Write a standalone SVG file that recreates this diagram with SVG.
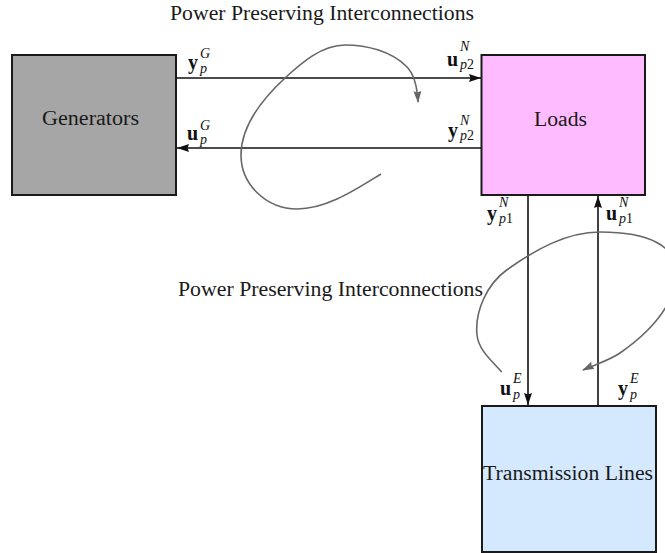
<svg xmlns="http://www.w3.org/2000/svg" width="665" height="553" viewBox="0 0 665 553">
<style>
  .box { stroke: #1a1a1a; stroke-width: 2; }
  .lbl { font-family: "Liberation Serif", "Times New Roman", serif; font-size: 20px; fill: #1a1a1a; }
  .main { font-family: "Liberation Serif", "Times New Roman", serif; font-size: 20px; font-weight: bold; fill: #111; }
  .scr { font-family: "Liberation Serif", "Times New Roman", serif; font-size: 14px; font-style: italic; fill: #111; }
  .up { font-style: normal; }
  .wire { stroke: #111; stroke-width: 1.6; fill: none; marker-end: url(#ah); }
  .loop { stroke: #666; stroke-width: 1.6; fill: none; marker-end: url(#ahg); }
</style>
<defs>
  <marker id="ah" markerUnits="userSpaceOnUse" viewBox="0 0 12 8" refX="12" refY="4" markerWidth="12" markerHeight="8" orient="auto">
    <path d="M0,0 L12,4 L0,8 L1.5,4 z" fill="#111"/>
  </marker>
  <marker id="ahg" markerUnits="userSpaceOnUse" viewBox="0 0 12 8" refX="11" refY="4" markerWidth="12" markerHeight="8" orient="auto">
    <path d="M0,0 L12,4 L0,8 L1.5,4 z" fill="#666"/>
  </marker>
</defs>

<text class="lbl" x="170" y="20" textLength="304" lengthAdjust="spacingAndGlyphs">Power Preserving Interconnections</text>
<text class="lbl" x="178" y="296" textLength="305" lengthAdjust="spacingAndGlyphs">Power Preserving Interconnections</text>

<g id="generators">
  <rect class="box" x="12" y="55" width="164" height="140" fill="#a6a6a6"/>
  <text class="lbl" x="42" y="125" textLength="97" lengthAdjust="spacingAndGlyphs">Generators</text>
</g>
<g id="loads">
  <rect class="box" x="481.5" y="55" width="163.5" height="140" fill="#ffbbff"/>
  <text class="lbl" x="534" y="126" textLength="53" lengthAdjust="spacingAndGlyphs">Loads</text>
</g>
<g id="transmission-lines">
  <rect class="box" x="482" y="406" width="174" height="146" fill="#d4e8fe"/>
  <text class="lbl" x="483" y="480" textLength="170" lengthAdjust="spacingAndGlyphs">Transmission Lines</text>
</g>

<g id="connectors">
  <line class="wire" x1="176" y1="78" x2="481" y2="78"/>
  <line class="wire" x1="481" y1="148" x2="177" y2="148"/>
  <line class="wire" x1="528" y1="195" x2="528" y2="405"/>
  <line class="wire" x1="598" y1="406" x2="598" y2="196"/>
  <path class="loop" d="M381,174 C355.5,189.6 327,209 297,209 C267,209 241,185 241,155 C241,125 263,98.4 285,78 C302,62.4 322,45 345,45 C367,45 391.6,51.2 407,67 C415.4,75.6 417.4,90 418,102"/>
  <path class="loop" d="M501.7,372 C491.8,360.8 478.5,350 477,335 C474.6,311 487.3,283.9 506.7,270 C534.2,250.3 566,232 600,232 C649,232 676,246 676,272 C676,307 647,334 620,353 C609.3,360.5 594.7,364.5 583,370"/>
</g>

<g id="labels">
  <text class="main" x="188" y="69">y</text>
  <text class="scr" x="200" y="58">G</text>
  <text class="scr" x="200" y="73">p</text>

  <text class="main" x="187" y="140">u</text>
  <text class="scr" x="200" y="130">G</text>
  <text class="scr" x="200" y="144">p</text>

  <text class="main" x="447" y="66">u</text>
  <text class="scr" x="460" y="51">N</text>
  <text class="scr" x="460" y="69">p<tspan class="up">2</tspan></text>

  <text class="main" x="448" y="137">y</text>
  <text class="scr" x="460" y="125">N</text>
  <text class="scr" x="460" y="140">p<tspan class="up">2</tspan></text>

  <text class="main" x="487" y="220">y</text>
  <text class="scr" x="499" y="207">N</text>
  <text class="scr" x="499" y="223">p<tspan class="up">1</tspan></text>

  <text class="main" x="606" y="220">u</text>
  <text class="scr" x="619" y="207">N</text>
  <text class="scr" x="619" y="223">p<tspan class="up">1</tspan></text>

  <text class="main" x="500" y="395">u</text>
  <text class="scr" x="513" y="383">E</text>
  <text class="scr" x="513" y="399">p</text>

  <text class="main" x="618" y="395">y</text>
  <text class="scr" x="630" y="383">E</text>
  <text class="scr" x="630" y="399">p</text>
</g>
</svg>
